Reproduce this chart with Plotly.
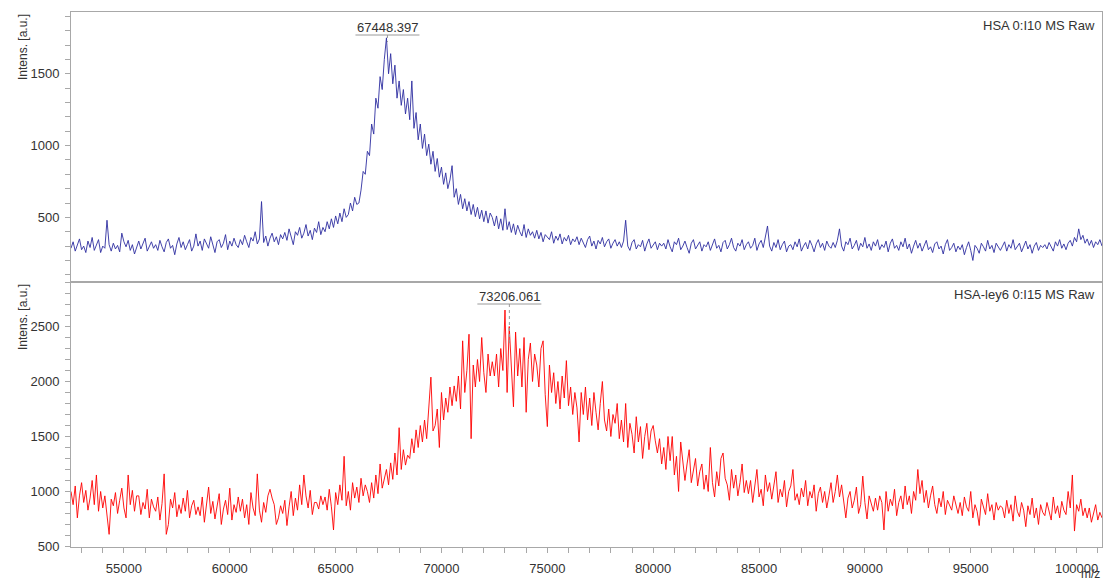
import plotly.graph_objects as go

MZ_START = 52500
MZ_STEP = 100

hsa_intens = [
    285, 330, 265, 315, 350, 275, 300, 255, 335, 290, 360, 270, 305, 345, 255, 300, 285, 480, 310, 265,
    320, 280, 305, 260, 390, 330, 295, 340, 270, 310, 245, 300, 335, 280, 320, 355, 265, 300, 330, 285,
    310, 270, 340, 295, 260, 325, 350, 285, 305, 240, 315, 360, 290, 330, 275, 310, 345, 265, 300, 385,
    300, 335, 270, 350, 310, 285, 365, 300, 255, 330, 345, 290, 320, 380, 275, 335, 300, 355, 310, 290,
    345, 310, 375, 330, 290, 360, 335, 400, 315, 350, 610, 325, 370, 300, 355, 390, 330, 365, 310, 380,
    350, 395, 340, 420, 365, 310, 400, 375, 430, 355, 390, 450, 370, 410, 345, 425, 395, 470, 380, 430,
    400, 470, 420, 490, 430, 510, 455, 530, 470, 560, 500, 520, 600, 545, 640, 590, 600, 690, 820, 800,
    960, 930, 1150, 1080, 1330, 1260, 1480, 1390, 1600, 1750, 1500, 1640, 1430, 1560, 1330, 1450, 1280, 1390, 1220, 1330,
    1180, 1450, 1120, 1230, 1040, 1150, 980, 1080, 930, 1010, 870, 960, 820, 910, 780, 850, 730, 810, 700, 760,
    860, 640, 700, 590, 660, 560, 630, 545, 610, 520, 590, 505, 570, 490, 550, 470, 545, 460, 530, 500,
    440, 510, 420, 490, 410, 560, 415, 470, 395, 455, 380, 445, 400, 370, 450, 360, 420, 375, 400, 355,
    410, 350, 395, 330, 380, 360, 345, 400, 320, 370, 340, 385, 315, 360, 335, 375, 310, 350, 330, 365,
    310, 355, 325, 290, 345, 370, 300, 335, 280, 340, 315, 360, 295, 330, 350, 285, 320, 345, 300, 330,
    290, 335, 480, 300, 270, 325, 345, 280, 310, 295, 340, 265, 315, 350, 285, 305, 330, 275, 320, 300,
    320, 280, 345, 295, 260, 330, 310, 355, 275, 300, 335, 290, 250, 320, 345, 280, 305, 330, 265, 310,
    295, 330, 270, 315, 350, 285, 305, 260, 325, 340, 280, 310, 355, 290, 265, 320, 300, 345, 275, 310,
    330, 285, 305, 355, 270, 315, 340, 290, 360, 440, 300, 265, 325, 290, 345, 275, 310, 335, 260, 300,
    310, 275, 330, 295, 350, 265, 300, 325, 280, 340, 305, 260, 315, 345, 290, 320, 270, 335, 300, 285,
    325, 290, 340, 420, 300, 265, 330, 310, 355, 280, 305, 340, 270, 320, 295, 360, 285, 315, 270, 330,
    300, 345, 275, 310, 290, 335, 260, 320, 350, 285, 305, 270, 330, 295, 355, 280, 315, 250, 300, 340,
    285, 320, 265, 305, 340, 275, 295, 255, 315, 330, 280, 300, 245, 310, 345, 270, 290, 320, 260, 300,
    275, 310, 240, 290, 330, 270, 200, 305, 285, 250, 320, 295, 265, 340, 280, 305, 255, 320, 290, 270,
    300, 330, 265, 310, 285, 345, 275, 300, 320, 260, 295, 335, 280, 310, 250, 300, 325, 270, 305, 290,
    310, 280, 325, 295, 265, 330, 300, 345, 285, 315, 275, 320, 340, 300, 360, 330, 420, 345, 375, 320,
    350, 305, 340, 290, 330, 310, 345, 300,
]

ley6_intens = [
    1000, 880, 1050, 760, 960, 1080, 900, 1010, 830, 940, 1100, 880, 1150, 820, 1000, 850, 960, 780, 610, 930,
    870, 990, 800, 920, 1030, 850, 760, 1150, 880, 1010, 820, 960, 960, 790, 900, 840, 1020, 760, 930, 860,
    820, 950, 740, 890, 1160, 610, 700, 930, 850, 990, 770, 880, 800, 940, 820, 1010, 760, 870, 920, 790,
    860, 780, 950, 720, 890, 1040, 800, 910, 750, 870, 980, 700, 840, 920, 790, 1030, 740, 880, 810, 950,
    820, 930, 760, 880, 700, 990, 850, 780, 1160, 830, 720, 900, 810, 960, 1020, 940, 880, 700, 760, 870,
    800, 920, 690, 860, 1000, 780, 940, 830, 1060, 880, 1150, 960, 850, 1010, 790, 900, 900, 840, 960, 880,
    950, 830, 1020, 860, 650, 990, 880, 1060, 920, 1320, 870, 1000, 830, 1080, 940, 1040, 900, 1120, 960, 1060,
    1000, 900, 1080, 940, 1150, 980, 1250, 1030, 1120, 1200, 1060, 1260, 1110, 1350, 1150, 1580, 1200, 1380, 1240, 1330,
    1300, 1480, 1350, 1560, 1400, 1600, 1450, 1650, 1480, 1720, 2040, 1550, 1600, 1750, 1400, 1900, 1650, 1850, 1720, 1950,
    1780, 1960, 1820, 2050, 1750, 2370, 1900, 2100, 2430, 1480, 2150, 1950, 2200, 2000, 2400, 2080, 1900, 2250, 2050, 2180,
    2050, 2250, 1950, 2300, 2100, 2650, 1900, 2500, 2150, 1770, 2450, 2050, 2300, 1950, 2400, 1720, 2200, 2350, 2000, 2250,
    2150, 1950, 2300, 2370, 1880, 1590, 2150, 1900, 2080, 1800, 2000, 1750, 2050, 1850, 2190, 1780, 1950, 1700, 1900, 1760,
    1450, 1900, 1700, 1950, 1650, 1850, 1600, 1900, 1720, 1560, 1800, 2000, 1650, 1550, 1750, 1500, 1700, 1620, 1800, 1480,
    1650, 1450, 1800, 1400, 1620, 1520, 1350, 1680, 1450, 1590, 1300, 1500, 1620, 1380, 1550, 1600, 1460, 1350, 1480, 1250,
    1400, 1200, 1500, 1280, 1500, 1150, 1320, 1000, 1450, 1300, 1100, 1250, 1380, 1080, 1200, 1300, 1050, 1180, 1250, 1020,
    1150, 1000, 1400, 1080, 950, 1180, 1050, 1300, 1350, 1120, 1060, 920, 1200, 1030, 1150, 960, 1080, 1250, 990, 1100,
    980, 1100, 900, 1050, 1200, 950, 1020, 870, 1150, 1000, 1080, 930, 1050, 1180, 900, 1020, 950, 1100, 860, 1000,
    1050, 1200, 920, 980, 880, 1030, 950, 1100, 870, 1000, 940, 1060, 820, 980, 1040, 900, 1000, 850, 960, 1080,
    900, 1000, 1150, 950, 1060, 880, 760, 940, 1000, 850, 920, 1040, 800, 880, 1140, 900, 750, 960, 880, 820,
    940, 830, 960, 900, 650, 1000, 820, 930, 870, 1020, 780, 900, 960, 840, 1050, 880, 960, 800, 1000, 920,
    1200, 980, 1100, 900, 1010, 850, 960, 1050, 880, 800, 940, 860, 1000, 790, 920, 880, 830, 960, 870, 800,
    900, 780, 950, 860, 820, 1000, 760, 880, 820, 690, 930, 850, 790, 980, 820, 880, 740, 900, 830, 870,
    850, 760, 920, 800, 880, 730, 960, 820, 770, 900, 830, 680, 870, 790, 940, 760, 850, 700, 880, 810,
    780, 900, 820, 740, 950, 800, 870, 760, 910, 830, 790, 1000, 850, 1150, 640, 880, 820, 930, 780, 850,
    760, 850, 720, 800, 880, 740, 810, 760,
]

hsa_label = "HSA 0:I10 MS Raw"
ley6_label = "HSA-ley6 0:I15 MS Raw"
hsa_peak = 67448.397
ley6_peak = 73206.061
y_title = "Intens. [a.u.]"
x_title = "m/z"

hsa_mz = [MZ_START + i * MZ_STEP for i in range(len(hsa_intens))]
ley6_mz = [MZ_START + i * MZ_STEP for i in range(len(ley6_intens))]

FONT = "Arial, Liberation Sans, sans-serif"
TXT = "#333333"
FRAME = "#a8a8a8"

fig = go.Figure()
fig.add_trace(go.Scatter(x=hsa_mz, y=hsa_intens, mode="lines",
                         line=dict(color="#2e2ea0", width=0.9),
                         xaxis="x", yaxis="y", showlegend=False, hoverinfo="skip"))
fig.add_trace(go.Scatter(x=ley6_mz, y=ley6_intens, mode="lines",
                         line=dict(color="#ff0000", width=0.9),
                         xaxis="x2", yaxis="y2", showlegend=False, hoverinfo="skip"))

split = 265 / 535.0
x_range = [52500, 101200]

common_y = dict(showgrid=False, zeroline=False, showline=True, mirror=True,
                linecolor=FRAME, linewidth=1, ticks="outside", ticklen=5,
                tickcolor=FRAME, tickfont=dict(family=FONT, size=13, color=TXT),
                dtick=500, ticklabelstandoff=3, tickformat="d",
                minor=dict(dtick=100, ticks="outside", ticklen=5, tickcolor=FRAME))

fig.update_layout(
    width=1104, height=580, autosize=False,
    margin=dict(l=71, r=2, t=12, b=33),
    paper_bgcolor="white", plot_bgcolor="white",
    xaxis=dict(domain=[0, 1], anchor="y", range=x_range, showgrid=False, zeroline=False,
               showline=True, mirror=True, linecolor=FRAME, linewidth=1,
               showticklabels=False, ticks="", matches="x2"),
    yaxis=dict(domain=[split, 1], anchor="x", range=[50, 1930], tick0=0, **common_y),
    xaxis2=dict(domain=[0, 1], anchor="y2", range=x_range, showgrid=False, zeroline=False,
                showline=True, mirror=True, linecolor=FRAME, linewidth=1,
                ticks="outside", ticklen=5, tickcolor=FRAME, dtick=5000, tick0=0,
                tickformat="d",
                tickfont=dict(family=FONT, size=13, color=TXT), ticklabelstandoff=4,
                minor=dict(dtick=1000, ticks="outside", ticklen=5, tickcolor=FRAME)),
    yaxis2=dict(domain=[0, split], anchor="x2", range=[495, 2905], tick0=0, **common_y),
)

ann = []
# panel labels
ann.append(dict(text=hsa_label, xref="x domain", yref="y domain", x=0.995, y=1 - 13 / 270.0,
                xanchor="right", yanchor="middle", showarrow=False,
                font=dict(family=FONT, size=13, color=TXT)))
ann.append(dict(text=ley6_label, xref="x2 domain", yref="y2 domain", x=0.995, y=1 - 12 / 265.0,
                xanchor="right", yanchor="middle", showarrow=False,
                font=dict(family=FONT, size=13, color=TXT)))
# peak labels
ann.append(dict(text=f"{hsa_peak:.3f}", xref="x", yref="y domain", x=hsa_peak, y=1 - 16 / 270.0,
                xanchor="center", yanchor="middle", showarrow=False,
                font=dict(family=FONT, size=13, color=TXT)))
ann.append(dict(text=f"{ley6_peak:.3f}", xref="x2", yref="y2 domain", x=ley6_peak, y=1 - 14 / 265.0,
                xanchor="center", yanchor="middle", showarrow=False,
                font=dict(family=FONT, size=13, color=TXT)))
# axis titles
for yd in ("y domain", "y2 domain"):
    ann.append(dict(text=y_title, xref="paper", yref=yd, x=(23 - 71) / 1031.0, y=1.0,
                    xanchor="center", yanchor="top", textangle=-90, showarrow=False,
                    font=dict(family=FONT, size=12, color=TXT)))
ann.append(dict(text=x_title, xref="paper", yref="paper", x=1.0, y=-27 / 535.0,
                xanchor="right", yanchor="middle", showarrow=False,
                font=dict(family=FONT, size=12, color=TXT)))
fig.update_layout(annotations=ann)

shapes = []
for xr, yr, pk, yu, yd in (("x", "y domain", hsa_peak, 1 - 23 / 270.0, 1 - 30 / 270.0),
                           ("x2", "y2 domain", ley6_peak, 1 - 22 / 265.0, 1 - 63 / 265.0)):
    shapes.append(dict(type="line", xref=xr, yref=yr, xsizemode="pixel", xanchor=pk,
                       x0=-32, x1=32, y0=yu, y1=yu, line=dict(color="#9a9a9a", width=1)))
    shapes.append(dict(type="line", xref=xr, yref=yr, x0=pk, x1=pk, y0=yu, y1=yd,
                       line=dict(color="#9a9a9a", width=1, dash="dot")))
fig.update_layout(shapes=shapes)

fig.write_html("out.html", config={"displayModeBar": False},
               post_script="document.body.style.margin='0';document.body.style.overflow='hidden';")
